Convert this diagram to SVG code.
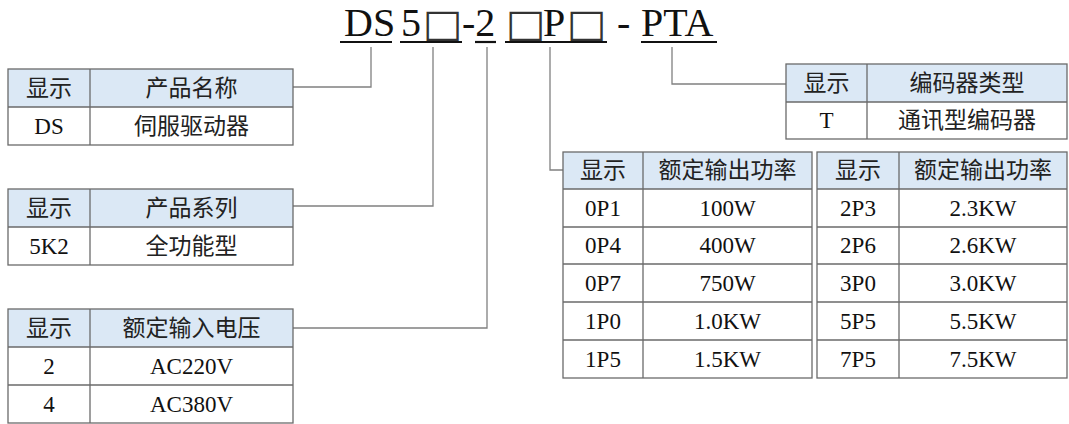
<svg xmlns="http://www.w3.org/2000/svg" width="1069" height="424" viewBox="0 0 1069 424">
<style>
.hd{fill:#dbe8f5;stroke:none}
.grid{fill:none;stroke:#6a6a6a;stroke-width:1.3}
.cn{font-family:"Noto Sans CJK SC","Noto Sans CJK TC",sans-serif;font-size:23px;fill:#222;text-anchor:middle}
.lt{font-family:"Liberation Serif","Times New Roman",serif;font-size:23px;fill:#111;text-anchor:middle}
.tt{font-family:"Liberation Serif","Times New Roman",serif;font-size:40px;fill:#111}
.bx{font-family:"DejaVu Sans",sans-serif;font-size:38px;fill:#333}
.ul{stroke:#111;stroke-width:2.2}
.wire{fill:none;stroke:#808080;stroke-width:1.3}
</style>
<rect width="1069" height="424" fill="#fff"/>
<g id="title">
<text class="tt" x="344" y="36">DS</text>
<text class="tt" x="401" y="36">5</text>
<text class="bx" transform="translate(422.5,36) scale(1.1,1)">□</text>
<text class="tt" x="462" y="36">-2</text>
<text class="bx" transform="translate(505.5,36) scale(1.1,1)">□</text>
<text class="tt" x="543" y="36">P</text>
<text class="bx" transform="translate(566.5,36) scale(1.1,1)">□</text>
<text class="tt" x="617" y="36">-</text>
<text class="tt" x="641" y="36">PTA</text>
<line class="ul" x1="340" y1="42" x2="392" y2="42"/>
<line class="ul" x1="400" y1="42" x2="462" y2="42"/>
<line class="ul" x1="475" y1="42" x2="496" y2="42"/>
<line class="ul" x1="505" y1="42" x2="607" y2="42"/>
<line class="ul" x1="641" y1="42" x2="717" y2="42"/>
</g>
<g id="connectors">
<polyline class="wire" points="293,87 371,87 371,47"/>
<polyline class="wire" points="293,206 433,206 433,47"/>
<polyline class="wire" points="293,328 487,328 487,47"/>
<polyline class="wire" points="550,47 550,170 563,170"/>
<polyline class="wire" points="672,47 672,84 786,84"/>
</g>
<g id="table-name">
<rect class="hd" x="8" y="69" width="285" height="38"/>
<rect class="grid" x="8" y="69" width="285" height="76"/>
<line class="grid" x1="8" y1="107" x2="293" y2="107"/>
<line class="grid" x1="90" y1="69" x2="90" y2="145"/>
<text class="cn" x="49" y="96">显示</text>
<text class="cn" x="191.5" y="96">产品名称</text>
<text class="lt" x="49" y="134">DS</text>
<text class="cn" x="191.5" y="134">伺服驱动器</text>
</g>
<g id="table-series">
<rect class="hd" x="8" y="189" width="285" height="38"/>
<rect class="grid" x="8" y="189" width="285" height="76"/>
<line class="grid" x1="8" y1="227" x2="293" y2="227"/>
<line class="grid" x1="90" y1="189" x2="90" y2="265"/>
<text class="cn" x="49" y="216">显示</text>
<text class="cn" x="191.5" y="216">产品系列</text>
<text class="lt" x="49" y="254">5K2</text>
<text class="cn" x="191.5" y="254">全功能型</text>
</g>
<g id="table-voltage">
<rect class="hd" x="8" y="309" width="285" height="38"/>
<rect class="grid" x="8" y="309" width="285" height="114"/>
<line class="grid" x1="8" y1="347" x2="293" y2="347"/>
<line class="grid" x1="8" y1="385" x2="293" y2="385"/>
<line class="grid" x1="90" y1="309" x2="90" y2="423"/>
<text class="cn" x="49" y="336">显示</text>
<text class="cn" x="191.5" y="336">额定输入电压</text>
<text class="lt" x="49" y="374">2</text>
<text class="lt" x="191.5" y="374">AC220V</text>
<text class="lt" x="49" y="412">4</text>
<text class="lt" x="191.5" y="412">AC380V</text>
</g>
<g id="table-encoder">
<rect class="hd" x="786" y="64" width="281" height="38"/>
<rect class="grid" x="786" y="64" width="281" height="75"/>
<line class="grid" x1="786" y1="102" x2="1067" y2="102"/>
<line class="grid" x1="867" y1="64" x2="867" y2="139"/>
<text class="cn" x="826.5" y="91">显示</text>
<text class="cn" x="967" y="91">编码器类型</text>
<text class="lt" x="826.5" y="128">T</text>
<text class="cn" x="967" y="128">通讯型编码器</text>
</g>
<g id="table-power-left">
<rect class="hd" x="563" y="152" width="249" height="37"/>
<rect class="grid" x="563" y="152" width="249" height="226"/>
<line class="grid" x1="563" y1="189" x2="812" y2="189"/>
<line class="grid" x1="563" y1="227" x2="812" y2="227"/>
<line class="grid" x1="563" y1="264" x2="812" y2="264"/>
<line class="grid" x1="563" y1="302" x2="812" y2="302"/>
<line class="grid" x1="563" y1="340" x2="812" y2="340"/>
<line class="grid" x1="643" y1="152" x2="643" y2="378"/>
<text class="cn" x="603" y="178">显示</text>
<text class="cn" x="727.5" y="178">额定输出功率</text>
<text class="lt" x="603" y="216">0P1</text>
<text class="lt" x="727.5" y="216">100W</text>
<text class="lt" x="603" y="253">0P4</text>
<text class="lt" x="727.5" y="253">400W</text>
<text class="lt" x="603" y="291">0P7</text>
<text class="lt" x="727.5" y="291">750W</text>
<text class="lt" x="603" y="329">1P0</text>
<text class="lt" x="727.5" y="329">1.0KW</text>
<text class="lt" x="603" y="367">1P5</text>
<text class="lt" x="727.5" y="367">1.5KW</text>
</g>
<g id="table-power-right">
<rect class="hd" x="817" y="152" width="250" height="37"/>
<rect class="grid" x="817" y="152" width="250" height="226"/>
<line class="grid" x1="817" y1="189" x2="1067" y2="189"/>
<line class="grid" x1="817" y1="227" x2="1067" y2="227"/>
<line class="grid" x1="817" y1="264" x2="1067" y2="264"/>
<line class="grid" x1="817" y1="302" x2="1067" y2="302"/>
<line class="grid" x1="817" y1="340" x2="1067" y2="340"/>
<line class="grid" x1="899" y1="152" x2="899" y2="378"/>
<text class="cn" x="858" y="178">显示</text>
<text class="cn" x="983" y="178">额定输出功率</text>
<text class="lt" x="858" y="216">2P3</text>
<text class="lt" x="983" y="216">2.3KW</text>
<text class="lt" x="858" y="253">2P6</text>
<text class="lt" x="983" y="253">2.6KW</text>
<text class="lt" x="858" y="291">3P0</text>
<text class="lt" x="983" y="291">3.0KW</text>
<text class="lt" x="858" y="329">5P5</text>
<text class="lt" x="983" y="329">5.5KW</text>
<text class="lt" x="858" y="367">7P5</text>
<text class="lt" x="983" y="367">7.5KW</text>
</g>
</svg>
